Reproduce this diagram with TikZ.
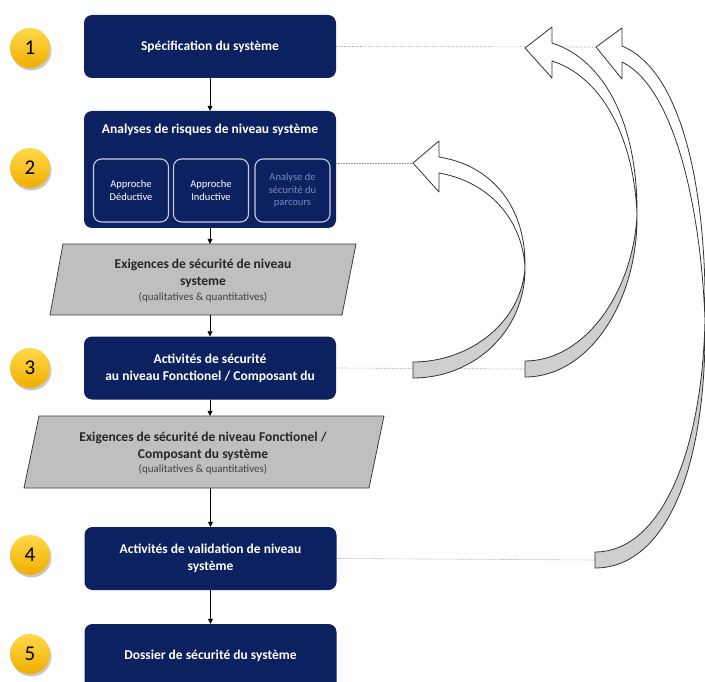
\documentclass[tikz,border=0pt]{standalone}
\usepackage{fontspec}
\setmainfont{Carlito}
\usetikzlibrary{arrows.meta,shadows,calc}
\definecolor{navy}{HTML}{0B2160}
\definecolor{subline}{HTML}{C5CBDD}
\definecolor{subfade}{HTML}{7D8BB3}
\definecolor{paragray}{HTML}{BFBFBF}
\definecolor{bandgray}{HTML}{CFCFCF}
\definecolor{ballTop}{HTML}{FFD84A}
\definecolor{ballBot}{HTML}{F0AE00}
\tikzset{
  navybox/.style={draw=none, fill=navy, rounded corners=8pt, minimum width=252pt,
    text=white, font=\bfseries\fontsize{13.5}{17}\selectfont, align=center, inner sep=0pt},
  subbox/.style={draw=subline, line width=1.1pt, rounded corners=8pt, minimum width=75pt,
    minimum height=63pt, text=white, font=\fontsize{10.5}{12.5}\selectfont, align=center, inner sep=0pt},
  parashape/.style={draw=black!75, line width=0.8pt, fill=paragray},
  paratext/.style={font=\bfseries\fontsize{13.5}{17}\selectfont, align=center, text=black!85, inner sep=0pt},
  smalltext/.style={font=\fontsize{11}{13}\selectfont, text=black!75},
  conn/.style={draw=black, line width=0.7pt, -{Triangle[length=5pt,width=5pt]}},
  guide/.style={draw=black!45, line width=0.6pt, densely dotted},
  badge/.style={circle, minimum size=40pt, inner sep=0pt, top color=ballTop, bottom color=ballBot,
    draw=none, font=\fontsize{21}{21}\selectfont, text=black,
    drop shadow={shadow xshift=1.5pt, shadow yshift=-2.5pt, opacity=0.3, fill=black!70}},
  bandwhite/.style={draw=black!80, line width=0.8pt, fill=white, line join=round},
  bandgrayst/.style={draw=black!80, line width=0.8pt, fill=bandgray, line join=round}
}
\begin{document}
\begin{tikzpicture}[x=1pt,y=-1pt]
\clip (0,0) rectangle (705,682);
\fill[white] (0,0) rectangle (705,682);

% badges
\node[badge] (n1) at (30,48) {1};
\node[badge] (n2) at (30,168) {2};
\node[badge] (n3) at (30,368) {3};
\node[badge] (n4) at (30,555) {4};
\node[badge] (n5) at (30,654) {5};

% boxes
\node[navybox, minimum height=63pt] (b1) at (210,46.5) {Spécification du système};
\node[navybox, minimum height=117pt] (b2) at (210,169.5) {};
\node[navybox, fill=none, minimum height=0pt] (b2t) at (210,130) {Analyses de risques de niveau système};
\node[subbox] (s1) at (131,190.5) {Approche\\Déductive};
\node[subbox] (s2) at (211,190.5) {Approche\\Inductive};
\node[subbox, text=subfade] (s3) at (292.5,190.5) {Analyse de\\sécurité du\\parcours};

\node[navybox, minimum height=63pt] (b3) at (210,368) {Activités de sécurité\\au niveau Fonctionel / Composant  du};
\node[navybox, minimum height=63pt] (b4) at (210.5,558.5) {Activités de validation de niveau\\système};
\node[navybox, minimum height=76pt, text depth=0pt] (b5) at (210.5,662) {};
\node[navybox, fill=none, minimum height=0pt] (b5t) at (210.5,656) {Dossier de sécurité du système};

% parallelograms
\draw[parashape] (63,244) -- (356,244) -- (342,315) -- (50,315) -- cycle;
\node[minimum width=306pt, minimum height=71pt, inner sep=0pt] (p1) at (203,279.5) {};
\node[paratext] (p1a) at (203,265) {Exigences de sécurité de niveau};
\node[paratext] (p1b) at (203,282) {systeme};
\node[smalltext] (p1c) at (203,297.5) {(qualitatives \& quantitatives)};

\draw[parashape] (39,416) -- (384,416) -- (369,488) -- (24,488) -- cycle;
\node[minimum width=360pt, minimum height=72pt, inner sep=0pt] (p2) at (204,452) {};
\node[paratext] (p2a) at (203,438) {Exigences de sécurité de niveau Fonctionel /};
\node[paratext] (p2b) at (203,455) {Composant du système};
\node[smalltext] (p2c) at (203,469.5) {(qualitatives \& quantitatives)};

% connectors
\draw[conn] (b1.south) -- (b2.north);
\draw[conn] (b2.south) -- (b2.south |- p1.north);
\draw[conn] (b3.north |- p1.south) -- (b3.north);
\draw[conn] (b3.south) -- (b3.south |- p2.north);
\draw[conn] (b4.north |- p2.south) -- (b4.north);
\draw[conn] (b4.south) -- (b5.north);

% arrow end coordinates
\coordinate (tipA) at (413,163);
\coordinate (tipB) at (525,48);
\coordinate (tipC) at (596,47);
\coordinate (tailA) at (413,370);
\coordinate (tailB) at (525,369);
\coordinate (tailC) at (595,560);

% guides
\draw[guide] (b1.east) -- (tipC);
\draw[guide] ($(b2.east)+(0,-6.5)$) -- (tipA);
\draw[guide] (b3.east) -- (tailB);
\draw[guide] (b4.east) -- (tailC);

% curved arrow A
\draw[bandgrayst] (525,267) .. controls (526,330) and (475,378) .. (413,378) -- (413,362)
   .. controls (470,362) and (522,322) .. (525,267) -- cycle;
\draw[bandwhite] (tipA) -- (439,141) -- (439,157) .. controls (495,166) and (526,210) .. (525,267)
   .. controls (522,220) and (490,182) .. (439,173) -- (439,192) -- cycle;

% curved arrow B
\draw[bandgrayst] (637,215) .. controls (638,300) and (590,377) .. (525,377) -- (525,361)
   .. controls (585,361) and (633,292) .. (637,215) -- cycle;
\draw[bandwhite] (tipB) -- (552,27) -- (552,43) .. controls (605,60) and (638,125) .. (637,215)
   .. controls (634,135) and (600,76) .. (552,61) -- (552,78) -- cycle;

% curved arrow C
\draw[bandgrayst] (705,320) .. controls (707,470) and (665,568) .. (595,568) -- (595,552)
   .. controls (660,552) and (702,455) .. (705,320) -- cycle;
\draw[bandwhite] (tipC) -- (622,28) -- (622,46) .. controls (685,72) and (707,200) .. (705,320)
   .. controls (701,210) and (675,88) .. (622,62) -- (622,79) -- cycle;
\end{tikzpicture}
\end{document}
